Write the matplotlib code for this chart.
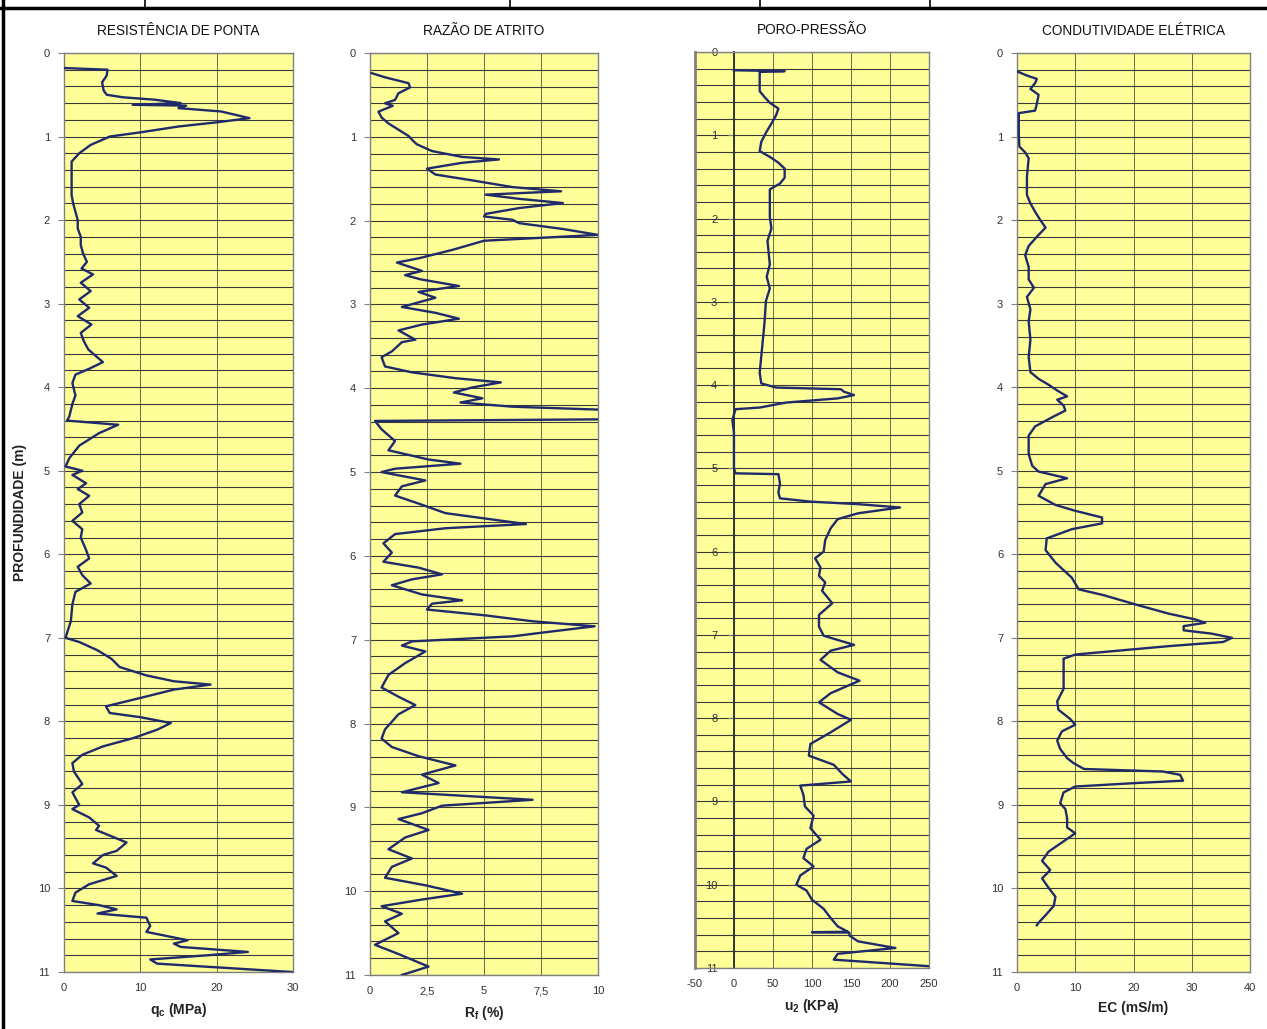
import matplotlib
matplotlib.use("Agg")
import matplotlib.pyplot as plt
from matplotlib.ticker import MultipleLocator, FuncFormatter
from matplotlib.lines import Line2D

# ---- dados (profundidade em m) ----
prof_qc = [0.18, 0.20, 0.27, 0.35, 0.45, 0.50, 0.53, 0.56, 0.60, 0.62, 0.63, 0.66, 0.70, 0.78, 0.83,
           0.88, 0.95, 1.00, 1.10, 1.20, 1.30, 1.50, 1.70, 1.80, 1.90, 2.00, 2.10, 2.20, 2.30, 2.40,
           2.50, 2.58, 2.65, 2.75, 2.85, 2.95, 3.05, 3.15, 3.25, 3.35, 3.45, 3.55, 3.70, 3.78, 3.85,
           3.95, 4.10, 4.20, 4.35, 4.40, 4.45, 4.55, 4.70, 4.85, 4.95, 5.00, 5.05, 5.15, 5.22, 5.30,
           5.40, 5.50, 5.60, 5.70, 5.80, 5.95, 6.05, 6.15, 6.25, 6.35, 6.45, 6.60, 6.80, 7.00, 7.05,
           7.15, 7.25, 7.35, 7.45, 7.52, 7.56, 7.62, 7.72, 7.82, 7.90, 7.95, 8.02, 8.10, 8.20, 8.30,
           8.40, 8.50, 8.60, 8.75, 8.85, 9.00, 9.05, 9.15, 9.25, 9.30, 9.45, 9.55, 9.60, 9.70, 9.75,
           9.85, 9.95, 10.05, 10.15, 10.20, 10.25, 10.30, 10.35, 10.45, 10.52, 10.57, 10.62, 10.66,
           10.70, 10.76, 10.80, 10.85, 10.90, 10.95, 11.00]
qc = [0, 5.7, 5.6, 5.0, 5.2, 5.6, 7.7, 12.0, 15.3, 9.0, 16.0, 15.0, 20.6, 24.3, 20.0,
      15.0, 10.0, 6.0, 3.5, 2.0, 1.0, 1.0, 1.0, 1.2, 1.5, 1.8, 1.8, 2.2, 2.2, 2.5,
      3.0, 2.3, 3.8, 2.2, 3.5, 2.0, 3.3, 1.8, 3.6, 2.2, 2.6, 3.2, 5.1, 3.3, 1.5,
      1.1, 1.5, 1.1, 0.7, 0.4, 7.1, 4.6, 2.0, 0.7, 0.2, 2.4, 1.1, 2.9, 1.8, 3.3,
      2.0, 2.4, 1.1, 2.4, 2.2, 2.9, 3.3, 1.8, 2.4, 3.5, 1.5, 1.1, 0.9, 0.2, 2.0,
      4.4, 6.2, 7.3, 10.8, 14.4, 19.2, 14.4, 10.0, 5.5, 6.0, 10.0, 14.0, 12.2, 9.1, 5.1,
      2.4, 1.1, 1.3, 2.4, 1.1, 2.0, 1.1, 3.3, 4.6, 4.2, 8.2, 6.9, 5.1, 3.8, 5.5,
      6.9, 3.3, 1.5, 1.1, 4.6, 6.9, 4.4, 10.8, 11.3, 10.8, 13.5, 16.2, 14.4,
      15.3, 24.1, 18.8, 11.3, 12.2, 21.0, 29.9]

prof_rf = [0.24, 0.29, 0.36, 0.41, 0.48, 0.56, 0.60, 0.63, 0.70, 0.77, 0.84, 0.99, 1.05, 1.09, 1.17,
           1.24, 1.27, 1.31, 1.38, 1.45, 1.52, 1.60, 1.65, 1.69, 1.74, 1.79, 1.85, 1.92, 1.95, 1.99,
           2.03, 2.10, 2.17, 2.24, 2.35, 2.45, 2.50, 2.60, 2.65, 2.70, 2.78, 2.85, 2.92, 3.03, 3.10,
           3.17, 3.24, 3.31, 3.42, 3.45, 3.56, 3.63, 3.74, 3.81, 3.88, 3.93, 3.99, 4.05, 4.12, 4.17,
           4.22, 4.26, 4.37, 4.39, 4.49, 4.63, 4.74, 4.85, 4.90, 4.96, 5.00, 5.10, 5.17, 5.28, 5.39,
           5.49, 5.56, 5.62, 5.67, 5.74, 5.85, 5.96, 6.07, 6.14, 6.22, 6.28, 6.35, 6.46, 6.53, 6.57,
           6.64, 6.71, 6.78, 6.84, 6.91, 6.96, 7.02, 7.07, 7.14, 7.28, 7.42, 7.57, 7.68, 7.78, 7.89,
           8.07, 8.18, 8.28, 8.39, 8.50, 8.61, 8.71, 8.82, 8.91, 8.98, 9.07, 9.14, 9.27, 9.36, 9.50,
           9.61, 9.71, 9.84, 9.93, 10.03, 10.10, 10.18, 10.27, 10.36, 10.50, 10.64, 10.75, 10.90, 11.00]
rf = [0.07, 0.66, 1.69, 1.76, 1.25, 1.10, 0.66, 1.00, 0.37, 0.51, 0.81, 1.69, 1.90, 2.06, 2.72,
      4.04, 5.66, 4.04, 2.50, 2.87, 4.49, 6.25, 8.38, 5.07, 6.54, 8.46, 6.54, 5.07, 5.00, 6.25,
      6.54, 8.46, 10.0, 5.00, 3.60, 2.13, 1.18, 2.28, 1.54, 2.21, 3.90, 2.13, 2.87, 1.40, 2.87,
      3.90, 2.28, 1.25, 1.99, 1.40, 0.96, 0.51, 0.66, 1.84, 3.75, 5.74, 4.49, 3.68, 4.93, 3.97,
      6.25, 10.6, 10.6, 0.22, 0.51, 1.10, 0.81, 2.57, 3.97, 1.10, 0.51, 2.43, 1.40, 1.10, 2.28,
      3.31, 5.22, 6.84, 3.31, 1.10, 0.59, 0.96, 0.59, 2.13, 3.16, 1.84, 0.96, 2.28, 4.04, 2.72,
      2.50, 5.07, 7.13, 9.85, 7.72, 6.25, 1.84, 1.40, 2.43, 1.54, 0.81, 0.51, 1.25, 1.99, 1.25,
      0.66, 0.51, 0.96, 2.13, 3.75, 2.28, 3.01, 1.40, 7.13, 3.16, 2.28, 1.25, 2.57, 1.54, 0.81,
      1.84, 0.96, 0.66, 2.43, 4.04, 2.28, 0.51, 1.40, 0.66, 1.25, 0.22, 1.25, 2.57, 1.40]

prof_u2 = [0.22, 0.23, 0.24, 0.32, 0.47, 0.54, 0.61, 0.68, 0.76, 0.86, 0.97, 1.08, 1.19, 1.26, 1.33,
           1.40, 1.51, 1.58, 1.65, 1.98, 2.12, 2.27, 2.55, 2.70, 2.84, 2.99, 3.27, 3.56, 3.85, 3.98,
           4.03, 4.05, 4.08, 4.12, 4.16, 4.21, 4.27, 4.29, 4.42, 4.57, 4.86, 5.00, 5.06, 5.07, 5.18,
           5.29, 5.36, 5.40, 5.43, 5.47, 5.54, 5.61, 5.72, 5.86, 6.00, 6.08, 6.19, 6.29, 6.37, 6.47,
           6.62, 6.76, 6.90, 7.01, 7.12, 7.19, 7.30, 7.45, 7.55, 7.70, 7.81, 7.95, 8.02, 8.17, 8.31,
           8.45, 8.56, 8.67, 8.76, 8.81, 8.92, 9.06, 9.17, 9.32, 9.46, 9.57, 9.68, 9.78, 9.89, 10.00,
           10.07, 10.18, 10.29, 10.40, 10.50, 10.54, 10.565, 10.57, 10.575, 10.61, 10.68, 10.76,
           10.83, 10.90, 10.98]
u2 = [0, 65, 33, 33, 33, 39, 46, 57, 54, 48, 41, 35, 33, 46, 57,
      65, 65, 59, 46, 46, 48, 43, 46, 42, 46, 41, 39, 36, 33, 35,
      54, 137, 141, 154, 133, 67, 33, 2, -2, 0, 0, 0, 2, 57, 59,
      57, 59, 98, 159, 213, 159, 133, 124, 117, 115, 104, 111, 109, 117, 113,
      126, 109, 109, 115, 154, 124, 111, 133, 161, 124, 109, 133, 150, 124, 98,
      96, 128, 139, 150, 85, 89, 91, 102, 98, 111, 93, 89, 102, 85, 80,
      93, 100, 115, 124, 133, 141, 146, 100, 148, 148, 159, 207,
      133, 128, 252]

prof_ec = [0.22, 0.27, 0.31, 0.36, 0.43, 0.50, 0.61, 0.69, 0.72, 0.83, 0.97, 1.12, 1.19, 1.26, 1.48,
           1.70, 1.80, 1.90, 2.00, 2.09, 2.20, 2.31, 2.42, 2.56, 2.71, 2.81, 2.92, 3.07, 3.21, 3.43,
           3.64, 3.82, 3.90, 3.97, 4.04, 4.11, 4.15, 4.22, 4.28, 4.35, 4.47, 4.58, 4.80, 4.94, 5.01,
           5.09, 5.16, 5.30, 5.41, 5.48, 5.56, 5.63, 5.70, 5.81, 5.95, 6.10, 6.21, 6.28, 6.35, 6.42,
           6.49, 6.60, 6.71, 6.78, 6.82, 6.86, 6.91, 6.95, 7.00, 7.05, 7.10, 7.15, 7.20, 7.25, 7.32,
           7.47, 7.61, 7.76, 7.86, 7.97, 8.04, 8.12, 8.23, 8.33, 8.44, 8.50, 8.57, 8.60, 8.64, 8.71,
           8.74, 8.78, 8.85, 8.98, 9.05, 9.16, 9.27, 9.34, 9.45, 9.56, 9.67, 9.78, 9.88, 9.99, 10.10,
           10.21, 10.32, 10.41, 10.44]
ec = [0, 1.7, 3.4, 3.1, 2.3, 3.7, 3.4, 3.1, 0.3, 0.3, 0.3, 0.4, 1.4, 2.0, 1.7,
      1.7, 2.3, 3.1, 4.0, 4.9, 3.4, 2.0, 1.4, 2.0, 2.0, 2.9, 1.7, 2.3, 2.0, 2.3,
      2.0, 2.3, 3.7, 5.4, 6.9, 8.6, 6.9, 8.0, 8.3, 6.3, 3.1, 2.0, 2.0, 2.6, 3.7,
      8.6, 4.9, 3.7, 6.6, 10.0, 14.6, 14.6, 9.4, 5.1, 4.9, 6.6, 8.3, 9.4, 10.0, 10.6,
      14.9, 20.3, 26.0, 30.6, 32.3, 28.6, 28.6, 33.4, 36.9, 35.4, 26.0, 18.0, 10.0, 8.0, 8.0,
      8.0, 8.0, 6.9, 7.1, 9.1, 10.0, 7.7, 6.9, 7.4, 8.6, 9.7, 11.5, 25.0, 28.0, 28.5,
      20.0, 10.0, 8.0, 7.4, 8.3, 8.6, 8.6, 10.0, 7.7, 5.4, 4.3, 5.7, 4.3, 5.4, 6.6,
      6.3, 4.9, 3.7, 3.4]

titulos = ["RESISTÊNCIA DE PONTA", "RAZÃO DE ATRITO", "PORO-PRESSÃO", "CONDUTIVIDADE ELÉTRICA"]
rotulos_x = [r"q$_\mathregular{c}$ (MPa)", r"R$_\mathregular{f}$ (%)",
             r"u$_\mathregular{2}$ (KPa)", "EC (mS/m)"]
limites_x = [(0, 30), (0, 10), (-50, 250), (0, 40)]
passos_x = [10, 2.5, 50, 10]

plt.rcParams['font.family'] = ['Liberation Sans Narrow', 'Liberation Sans', 'DejaVu Sans']
plt.rcParams['mathtext.fontset'] = 'custom'
plt.rcParams['mathtext.rm'] = 'Liberation Sans'

fig = plt.figure(figsize=(12.67, 10.29), dpi=100)

posicoes = [[0.0505, 0.0554, 0.1807, 0.8931],
            [0.2920, 0.0525, 0.1800, 0.8960],
            [0.5485, 0.0593, 0.1847, 0.8902],
            [0.8027, 0.0554, 0.1839, 0.8931]]
series = [(prof_qc, qc), (prof_rf, rf), (prof_u2, u2), (prof_ec, ec)]

amarelo = '#FFFF99'
azul = '#1F2A6B'
cinza = '#808080'

for i in range(4):
    ax = fig.add_axes(posicoes[i])
    ax.set_facecolor(amarelo)
    prof, val = series[i]
    ax.plot(val, prof, color=azul, lw=1.7, zorder=3)
    ax.set_xlim(*limites_x[i])
    ax.set_ylim(11, 0)
    ax.xaxis.set_major_locator(MultipleLocator(passos_x[i]))
    ax.yaxis.set_major_locator(MultipleLocator(1))
    ax.yaxis.set_minor_locator(MultipleLocator(0.2))
    ax.xaxis.set_major_formatter(FuncFormatter(lambda v, p: ('%g' % v).replace('.', ',')))
    ax.grid(axis='y', which='both', color='#3a3a3a', lw=0.8)
    ax.grid(axis='x', which='major', color='#6b6b50', lw=0.7)
    ax.set_axisbelow(True)
    for s in ax.spines.values():
        s.set_color(cinza)
        s.set_linewidth(1.0)
    ax.tick_params(axis='y', which='major', length=4, width=0.8, color=cinza,
                   labelsize=8, labelcolor='#333333', pad=6)
    ax.tick_params(axis='y', which='minor', length=0)
    ax.tick_params(axis='x', length=0, labelsize=8, labelcolor='#333333', pad=8)
    ax.set_title(titulos[i], fontsize=9.8, pad=13, color='#111111')
    ax.set_xlabel(rotulos_x[i], fontsize=10, fontweight='bold', color='#222222',
                  family=['Liberation Sans', 'DejaVu Sans'], labelpad=6)
    if i == 0:
        ax.set_ylabel("PROFUNDIDADE (m)", fontsize=10, fontweight='bold', color='#222222',
                      family=['Liberation Sans', 'DejaVu Sans'], labelpad=8)
    if i == 2:
        # eixo vertical cruza em zero, como no Excel
        ax.spines['left'].set_position(('data', 0))
        ax.spines['left'].set_color('#2a2a2a')
        ax.spines['left'].set_linewidth(1.3)
        ax.axvline(-50, color=cinza, lw=2.0, clip_on=False, zorder=4)
        ax.tick_params(axis='y', which='major', pad=8)

# moldura da tabela em cima
fig.add_artist(Line2D([0, 1], [1 - 8 / 1029, 1 - 8 / 1029], color='black', lw=2.5))
for xp in [145, 510, 760, 930]:
    fig.add_artist(Line2D([xp / 1267, xp / 1267], [1, 1 - 8 / 1029], color='black', lw=1.2))
fig.add_artist(Line2D([3 / 1267, 3 / 1267], [0, 1], color='black', lw=2.5))

fig.savefig("out.png", dpi=100)
